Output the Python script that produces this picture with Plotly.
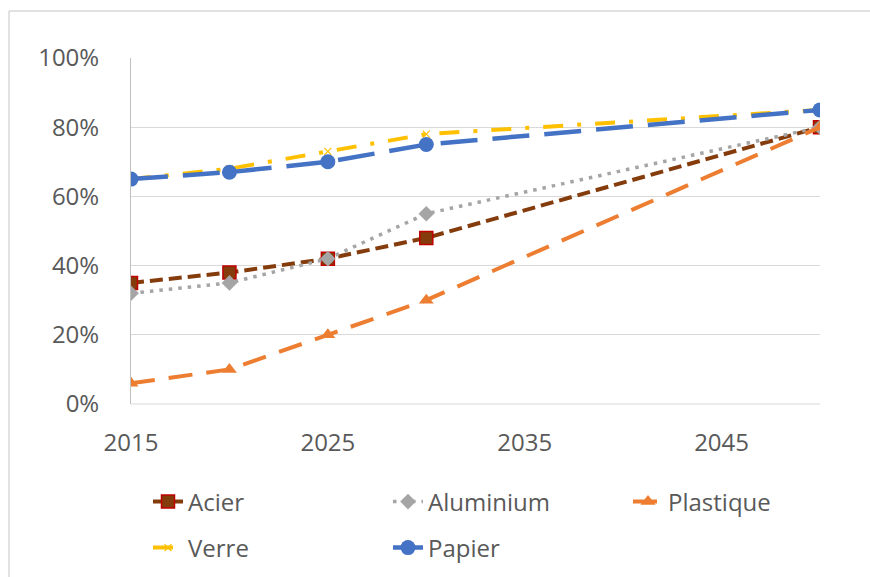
import plotly.graph_objects as go

# Recycling rate by material (share of waste recycled), projected to 2050
years = [2015, 2020, 2025, 2030, 2050]
acier = [35, 38, 42, 48, 80]
aluminium = [32, 35, 42, 55, 80]
plastique = [6, 10, 20, 30, 80]
verre = [65, 68, 73, 78, 85]
papier = [65, 67, 70, 75, 85]

y_ticks = [0, 20, 40, 60, 80, 100]
y_tick_labels = ["0%", "20%", "40%", "60%", "80%", "100%"]
x_ticks = [2015, 2025, 2035, 2045]
x_tick_labels = ["2015", "2025", "2035", "2045"]

W, H = 870, 577
L, R, T, B = 131, 50, 58, 173
pw, ph = W - L - R, H - T - B


def px_x(p):
    return (p - L) / pw


def px_y(p):
    return (H - B - p) / ph


FONT = "Open Sans"
TXT = "#595959"
FS = 24

fig = go.Figure()

fig.add_trace(go.Scatter(
    x=years, y=acier, name="Acier", mode="lines+markers",
    line=dict(color="#843C0C", width=4, dash="13px,6px"),
    marker=dict(symbol="square", size=13, color="#843C0C",
                line=dict(color="#C00000", width=1.5)),
    legend="legend",
))
fig.add_trace(go.Scatter(
    x=years, y=aluminium, name="Aluminium", mode="lines+markers",
    line=dict(color="#A5A5A5", width=3.5, dash="3.5px,6px"),
    marker=dict(symbol="diamond", size=12, color="#A5A5A5"),
    legend="legend",
))
fig.add_trace(go.Scatter(
    x=years, y=plastique, name="Plastique", mode="lines+markers",
    line=dict(color="#ED7D31", width=4, dash="24px,14px"),
    marker=dict(symbol="triangle-up", size=13, color="#ED7D31"),
    legend="legend3",
))
fig.add_trace(go.Scatter(
    x=years, y=verre, name="Verre", mode="lines+markers",
    line=dict(color="#FFC000", width=4, dash="20px,14px,4px,14px"),
    marker=dict(symbol="x-thin", size=7, color="#FFC000",
                line=dict(color="#FFC000", width=1.2)),
    legend="legend2",
))
fig.add_trace(go.Scatter(
    x=years, y=papier, name="Papier", mode="lines+markers",
    line=dict(color="#4472C4", width=4.5, dash="37px,15px"),
    marker=dict(symbol="circle", size=15, color="#4472C4"),
    legend="legend2",
))

legend_common = dict(
    orientation="h",
    font=dict(family=FONT, size=FS, color=TXT),
    bgcolor="rgba(0,0,0,0)",
    entrywidthmode="pixels",
    xanchor="left",
    yanchor="middle",
    traceorder="normal",
)

LEG_X = 148
ROW1, ROW2 = 502, 548
fig.update_layout(
    width=W, height=H,
    margin=dict(l=L, r=R, t=T, b=B, autoexpand=False),
    paper_bgcolor="white",
    plot_bgcolor="white",
    font=dict(family=FONT, size=FS, color=TXT),
    showlegend=True,
    legend=dict(x=px_x(LEG_X), y=px_y(ROW1), entrywidth=195, **legend_common),
    legend3=dict(x=px_x(LEG_X + 480), y=px_y(ROW1), entrywidth=110, **legend_common),
    legend2=dict(x=px_x(LEG_X), y=px_y(ROW2), entrywidth=195, **legend_common),
    xaxis=dict(
        range=[2015, 2050],
        tickvals=x_ticks, ticktext=x_tick_labels,
        showgrid=False, zeroline=False,
        showline=False, ticks="",
        ticklabelstandoff=22,
        tickfont=dict(family=FONT, size=FS, color=TXT),
    ),
    yaxis=dict(
        range=[0, 100],
        tickvals=y_ticks, ticktext=y_tick_labels,
        showgrid=True, gridcolor="#D9D9D9", gridwidth=1,
        zeroline=False,
        showline=True, linecolor="#BFBFBF", linewidth=1,
        ticks="", ticklabelstandoff=26,
        tickfont=dict(family=FONT, size=FS, color=TXT),
    ),
    shapes=[
        # chart frame (top and left edges)
        dict(type="line", xref="paper", yref="paper",
             x0=px_x(9), x1=px_x(W + 5), y0=px_y(11), y1=px_y(11),
             line=dict(color="#D9D9D9", width=1.5)),
        dict(type="line", xref="paper", yref="paper",
             x0=px_x(9), x1=px_x(9), y0=px_y(11), y1=px_y(H + 5),
             line=dict(color="#D9D9D9", width=1.5)),
        # baseline at 0%
        dict(type="line", xref="paper", yref="paper",
             x0=0, x1=1, y0=0, y1=0, layer="below",
             line=dict(color="#D9D9D9", width=1)),
    ],
)

fig.write_html("out.html")
